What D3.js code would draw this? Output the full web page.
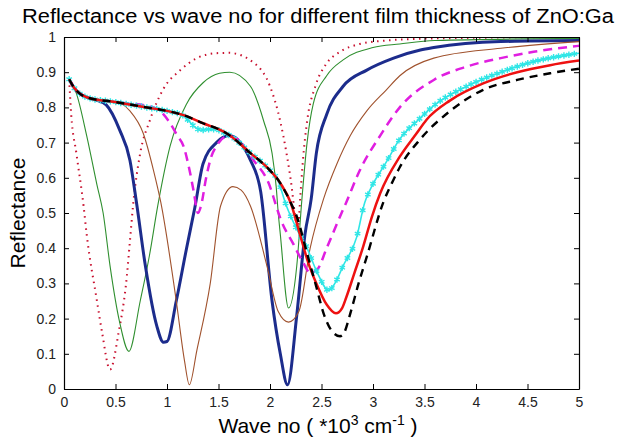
<!DOCTYPE html>
<html>
<head>
<meta charset="utf-8">
<script src="https://cdn.jsdelivr.net/npm/d3@7"></script>
<style>
  body { margin: 0; background: #fff; }
  svg { display: block; font-family: "Liberation Sans", Arial, sans-serif; }
</style>
</head>
<body>
<svg id="chart" width="622" height="439"></svg>
<script>
// reflectance curves, [wave no, reflectance]
var xTicks = [0, 0.5, 1, 1.5, 2, 2.5, 3, 3.5, 4, 4.5, 5];
var yTicks = [0, 0.1, 0.2, 0.3, 0.4, 0.5, 0.6, 0.7, 0.8, 0.9, 1];

var redDotted = [[0.05,0.88],[0.07,0.78],[0.12,0.67],[0.19,0.52],[0.22,0.44],[0.32,0.25],[0.37,0.16],[0.447,0.055],
  [0.53,0.16],[0.61,0.32],[0.64,0.42],[0.67,0.52],[0.74,0.67],[0.83,0.76],[0.96,0.85],[1.13,0.906],[1.29,0.94],
  [1.48,0.954],[1.6,0.955],[1.85,0.925],[2.0,0.86],[2.1,0.76],[2.16,0.67],[2.21,0.575],[2.24,0.5],[2.27,0.45],
  [2.295,0.55],[2.32,0.65],[2.36,0.76],[2.44,0.86],[2.55,0.925],[2.68,0.958],[2.87,0.98],[3.13,0.99],[3.6,0.996],[5.0,1.0]];

var green = [[0.05,0.88],[0.12,0.84],[0.22,0.72],[0.32,0.58],[0.38,0.5],[0.447,0.35],[0.54,0.19],[0.63,0.107],
  [0.74,0.25],[0.83,0.38],[0.91,0.52],[1.03,0.69],[1.19,0.81],[1.35,0.87],[1.51,0.897],[1.61,0.9],[1.81,0.86],
  [1.94,0.76],[2.02,0.67],[2.06,0.575],[2.08,0.5],[2.1,0.44],[2.18,0.23],[2.26,0.35],[2.31,0.54],[2.36,0.7],
  [2.42,0.81],[2.55,0.89],[2.71,0.935],[3.0,0.97],[3.26,0.98],[3.6,0.99],[5.0,0.996]];

var navy = [[0.05,0.88],[0.1,0.855],[0.15,0.84],[0.25,0.826],[0.32,0.82],[0.41,0.807],[0.54,0.736],[0.64,0.65],
  [0.705,0.527],[0.79,0.35],[0.9,0.18],[0.965,0.133],[1.0,0.135],[1.09,0.25],[1.19,0.4],[1.27,0.515],[1.35,0.64],
  [1.48,0.7],[1.6,0.72],[1.81,0.65],[1.91,0.56],[2.02,0.25],[2.1,0.1],[2.17,0.012],[2.26,0.21],[2.34,0.44],
  [2.4,0.54],[2.45,0.67],[2.55,0.78],[2.71,0.86],[2.94,0.906],[3.2,0.94],[3.46,0.963],[3.59,0.97],[4.24,0.987],[5.0,0.99]];

var brown = [[0.05,0.88],[0.1,0.855],[0.15,0.84],[0.25,0.826],[0.48,0.816],[0.56,0.81],[0.64,0.79],[0.77,0.726],
  [0.87,0.62],[0.94,0.53],[1.09,0.25],[1.17,0.08],[1.217,0.012],[1.29,0.11],[1.42,0.3],[1.52,0.52],[1.64,0.575],
  [1.72,0.565],[1.81,0.52],[1.97,0.35],[2.08,0.22],[2.18,0.19],[2.28,0.22],[2.39,0.4],[2.52,0.54],[2.65,0.64],
  [2.78,0.72],[2.94,0.79],[3.13,0.85],[3.26,0.89],[3.59,0.94],[4.24,0.968],[5.0,0.987]];

var magenta = [[0.05,0.88],[0.1,0.855],[0.15,0.84],[0.25,0.826],[0.48,0.816],[0.87,0.8],[0.95,0.785],[1.03,0.755],
  [1.1,0.72],[1.16,0.69],[1.22,0.62],[1.26,0.56],[1.3,0.5],[1.33,0.52],[1.38,0.6],[1.43,0.66],[1.48,0.69],
  [1.58,0.717],[1.65,0.715],[1.84,0.65],[2.0,0.575],[2.06,0.52],[2.1,0.485],[2.23,0.41],[2.32,0.36],[2.39,0.33],
  [2.46,0.34],[2.55,0.4],[2.68,0.49],[2.74,0.53],[2.87,0.62],[3.07,0.72],[3.26,0.8],[3.59,0.878],[3.91,0.916],
  [4.24,0.94],[4.56,0.958],[5.0,0.975]];

var cyan = [[0.05,0.88],[0.1,0.855],[0.15,0.84],[0.25,0.826],[0.48,0.816],[0.8,0.8],[1.03,0.788],[1.15,0.778],
  [1.2,0.765],[1.28,0.742],[1.33,0.735],[1.4,0.738],[1.47,0.738],[1.55,0.728],[1.61,0.72],[1.81,0.67],[1.97,0.63],
  [2.08,0.59],[2.16,0.52],[2.25,0.46],[2.36,0.4],[2.46,0.33],[2.57,0.28],[2.63,0.3],[2.71,0.35],[2.84,0.43],
  [2.92,0.53],[2.97,0.565],[3.13,0.645],[3.26,0.71],[3.46,0.77],[3.59,0.805],[3.91,0.86],[4.24,0.9],[4.56,0.93],[5.0,0.954]];

var red = [[0.05,0.88],[0.1,0.855],[0.15,0.84],[0.25,0.826],[0.48,0.816],[0.8,0.8],[1.03,0.788],[1.16,0.778],
  [1.35,0.755],[1.55,0.731],[1.61,0.72],[1.81,0.67],[1.97,0.63],[2.1,0.585],[2.2,0.53],[2.29,0.44],[2.37,0.36],
  [2.45,0.3],[2.55,0.24],[2.64,0.215],[2.7,0.23],[2.74,0.26],[2.82,0.33],[2.9,0.4],[2.99,0.49],[3.07,0.556],
  [3.26,0.66],[3.42,0.725],[3.52,0.765],[3.75,0.82],[4.07,0.868],[4.4,0.9],[4.72,0.92],[5.0,0.933]];

var black = [[0.05,0.88],[0.1,0.855],[0.15,0.84],[0.25,0.826],[0.48,0.816],[0.8,0.8],[1.03,0.788],[1.16,0.778],
  [1.35,0.755],[1.55,0.731],[1.61,0.72],[1.81,0.67],[1.97,0.63],[2.1,0.585],[2.2,0.53],[2.26,0.49],[2.36,0.385],
  [2.45,0.29],[2.52,0.215],[2.6,0.165],[2.68,0.15],[2.72,0.16],[2.78,0.215],[2.86,0.3],[2.94,0.376],[3.1,0.53],
  [3.2,0.595],[3.26,0.63],[3.46,0.71],[3.75,0.79],[4.07,0.85],[4.4,0.878],[4.72,0.897],[5.0,0.91]];

var series = [
  {data: redDotted, color: "#c8102e", width: 2, dash: "1.5,4.5", cap: "butt"},
  {data: green, color: "#2f8f2f", width: 1.1},
  {data: navy, color: "#1c2c8c", width: 3},
  {data: brown, color: "#a0522d", width: 1.1},
  {data: magenta, color: "#e01ee0", width: 2.5, dash: "9,6"},
  {data: cyan, color: "#2fe6e6", width: 1.6, markers: true},
  {data: red, color: "#ee1111", width: 2.5},
  {data: black, color: "#000000", width: 2.4, dash: "8,6"}
];

var margin = {top: 37, right: 43, bottom: 50, left: 64};
var width = 622 - margin.left - margin.right;
var height = 439 - margin.top - margin.bottom;

var svg = d3.select("#chart");
var g = svg.append("g").attr("transform", "translate(" + margin.left + "," + margin.top + ")");

var x = d3.scaleLinear().domain([0, 5]).range([0, width]);
var y = d3.scaleLinear().domain([0, 1]).range([height, 0]);

g.append("defs").append("clipPath").attr("id", "clip")
  .append("rect").attr("width", width).attr("height", height);

var line = d3.line()
  .x(function(d) { return x(d[0]); })
  .y(function(d) { return y(d[1]); })
  .curve(d3.curveMonotoneX);

var plot = g.append("g").attr("clip-path", "url(#clip)");

series.forEach(function(s) {
  var p = plot.append("path")
    .datum(s.data)
    .attr("d", line)
    .style("fill", "none")
    .style("stroke", s.color)
    .style("stroke-width", s.width)
    .style("stroke-linejoin", "round")
    .style("stroke-linecap", s.cap || "butt");
  if (s.dash) p.style("stroke-dasharray", s.dash);

  if (s.markers) {
    // star markers along the drawn line, one about every 0.05 on x
    var node = p.node();
    var len = node.getTotalLength();
    var samples = [];
    for (var l = 0; l <= len; l += 0.5) samples.push(node.getPointAtLength(l));
    var marks = [];
    var step = x(0.05) - x(0);
    var nextX = samples[0].x;
    samples.forEach(function(pt) {
      if (pt.x >= nextX) { marks.push(pt); nextX += step; }
    });
    plot.selectAll(".mk").data(marks).enter().append("path")
      .attr("class", "mk")
      .attr("transform", function(d) { return "translate(" + d.x + "," + d.y + ")"; })
      .attr("d", d3.symbol(d3.symbolAsterisk, 28))
      .style("fill", "none")
      .style("stroke", s.color)
      .style("stroke-width", 1.4);
  }
});

// axes, MATLAB box with inward ticks
var tickFmt = function(d) { return d3.format("")(d); };

var xAxis = g.append("g").attr("transform", "translate(0," + height + ")")
  .call(d3.axisBottom(x).tickValues(xTicks).tickFormat(tickFmt).tickSizeInner(-5).tickSizeOuter(0).tickPadding(8));
var yAxis = g.append("g")
  .call(d3.axisLeft(y).tickValues(yTicks).tickFormat(tickFmt).tickSizeInner(-5).tickSizeOuter(0).tickPadding(8));
g.append("g")
  .call(d3.axisTop(x).tickValues(xTicks).tickFormat("").tickSizeInner(-5).tickSizeOuter(0));
g.append("g").attr("transform", "translate(" + width + ",0)")
  .call(d3.axisRight(y).tickValues(yTicks).tickFormat("").tickSizeInner(-5).tickSizeOuter(0));

g.selectAll(".domain").style("stroke", "#000").style("stroke-width", 1.2);
g.selectAll(".tick line").style("stroke", "#000");
g.selectAll(".tick text").style("font-size", "14px").style("fill", "#222")
  .style("font-family", "'Liberation Sans', Arial, sans-serif");

// titles
svg.append("text")
  .attr("x", 318).attr("y", 23)
  .attr("text-anchor", "middle")
  .attr("textLength", 592).attr("lengthAdjust", "spacingAndGlyphs")
  .style("font-size", "20px").style("fill", "#000")
  .text("Reflectance vs wave no for different film thickness of ZnO:Ga");

var xl = svg.append("text")
  .attr("x", 318).attr("y", 433)
  .attr("text-anchor", "middle")
  .style("font-size", "21px").style("fill", "#000");
xl.append("tspan").text("Wave no ( *10");
xl.append("tspan").attr("dy", -8).style("font-size", "14px").text("3");
xl.append("tspan").attr("dy", 8).text(" cm");
xl.append("tspan").attr("dy", -8).style("font-size", "14px").text("-1");
xl.append("tspan").attr("dy", 8).text(" )");

svg.append("text")
  .attr("transform", "translate(25," + (margin.top + height / 2) + ") rotate(-90)")
  .attr("text-anchor", "middle")
  .style("font-size", "21px").style("fill", "#000")
  .text("Reflectance");
</script>
</body>
</html>
